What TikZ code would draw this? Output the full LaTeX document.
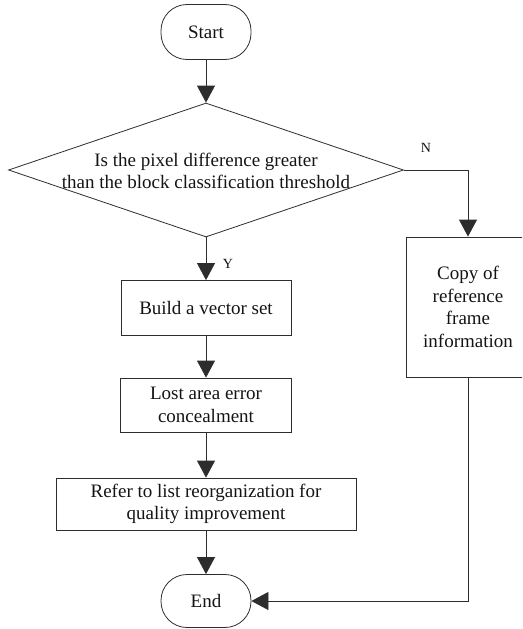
\documentclass[tikz,border=0pt]{standalone}
\usepackage{fontspec}
\setmainfont{Liberation Serif}
\usetikzlibrary{positioning, arrows.meta, shapes.geometric}
\definecolor{lineDark}{RGB}{45,45,45}
\definecolor{textDark}{RGB}{20,20,20}

\begin{document}
\begin{tikzpicture}[
    x=1pt, y=-1pt,
    every node/.style={text=textDark, font=\fontsize{19}{22.5}\selectfont},
    procbox/.style={draw=lineDark, line width=0.8pt, rectangle, align=center, inner sep=2pt},
    terminal/.style={draw=lineDark, line width=0.8pt, rectangle, rounded corners=26pt,
                     minimum width=90pt, minimum height=55pt},
    decision/.style={draw=lineDark, line width=0.8pt, diamond, inner sep=0pt,
                     minimum width=395pt, minimum height=134pt},
    flow/.style={draw=lineDark, line width=0.8pt, -{Triangle[length=17pt, width=18pt]}},
    branch/.style={font=\fontsize{14}{16}\selectfont},
]
% Canvas: x in [0, 522], y in [0, 629], y grows downwards
\useasboundingbox (0,0) rectangle (522,629);
\clip (0,0) rectangle (522,629);

% --- Main column ---
\node[terminal] (start) at (206,32) {Start};
\node[decision] (decide) at (206,170) {};
\node[align=center] (decideText) at (206,171)
    {Is the pixel difference greater\\than the block classification threshold};

\node[procbox, minimum width=170pt, minimum height=55pt] (build) at (206,308) {Build a vector set};
\node[procbox, minimum width=171pt, minimum height=54pt] (lost)  at (206,405) {Lost area error\\concealment};
\node[procbox, minimum width=300pt, minimum height=52pt] (refer) at (206,504)
    {Refer to list reorganization for\\quality improvement};
\node[terminal, minimum height=53pt] (stop) at (206,601) {End};

% --- Side branch (box runs past the right edge, as in the source) ---
\node[procbox, minimum width=124pt, minimum height=140pt] (copy) at (468,307)
    {Copy of\\reference\\frame\\information};

% --- Branch labels ---
\node[branch] (yesLabel) at (228,264) {Y};
\node[branch] (noLabel)  at (426,148) {N};

% --- Connectors ---
\draw[flow] (start) -- (decide);
\draw[flow] (decide) -- (build);
\draw[flow] (build) -- (lost);
\draw[flow] (lost) -- (refer);
\draw[flow] (refer) -- (stop);
\draw[flow] (decide.east) -| (copy.north);
\draw[flow] (copy.south) |- (stop.east);

\end{tikzpicture}
\end{document}
